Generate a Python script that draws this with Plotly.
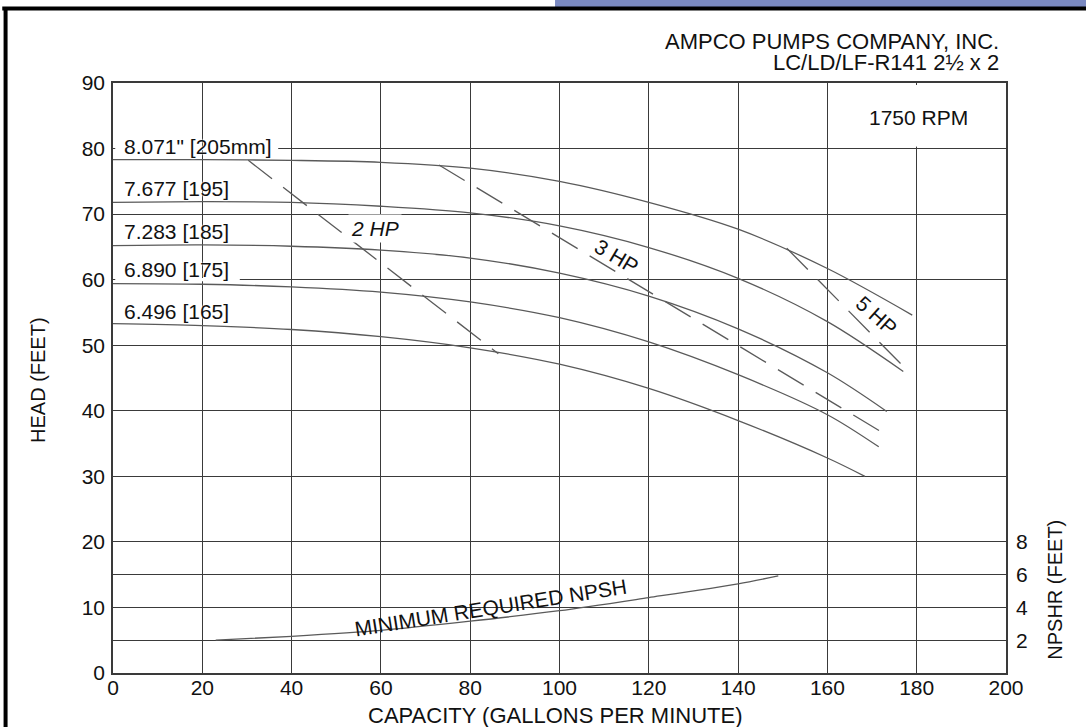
"""Ampco LC/LD/LF-R141 pump performance curve."""

import plotly.graph_objects as go

C_GRID = "#3a3a3a"
C_CURVE = "#5a5a5a"
C_TEXT = "#111111"
FONT = "Liberation Sans, Arial, sans-serif"

# impeller curves: capacity (gpm) -> head (ft)
IMP_LABELS = ['8.071" [205mm]', "7.677 [195]", "7.283 [185]", "6.890 [175]", "6.496 [165]"]
GPM_205 = [0, 20, 40, 60, 80, 100, 120, 140, 160, 179]
HEAD_205 = [78.3, 78.3, 78.2, 77.9, 77.0, 75.0, 71.8, 67.7, 61.7, 54.6]
GPM_195 = [0, 20, 40, 60, 80, 100, 120, 140, 160, 177]
HEAD_195 = [71.8, 71.9, 71.8, 71.2, 70.2, 68.2, 64.9, 60.2, 53.6, 46.0]
GPM_185 = [0, 20, 40, 60, 80, 100, 120, 140, 160, 173.3]
HEAD_185 = [65.2, 65.3, 65.1, 64.5, 63.3, 61.0, 57.5, 52.5, 45.8, 39.9]
GPM_175 = [0, 20, 40, 60, 80, 100, 120, 140, 160, 171.5]
HEAD_175 = [59.4, 59.3, 58.9, 58.1, 56.6, 54.2, 50.5, 45.5, 39.4, 34.5]
GPM_165 = [0, 20, 40, 60, 80, 100, 120, 140, 160, 168.4]
HEAD_165 = [53.3, 53.0, 52.4, 51.3, 49.6, 47.1, 43.4, 38.5, 32.8, 30.0]
LABEL_HEAD = [80.3, 73.9, 67.3, 61.5, 55.1]

# horsepower lines
HP_LABELS = ["2 HP", "3 HP", "5 HP"]
GPM_2HP = [30.3, 86.3]
HEAD_2HP = [78.2, 48.7]
GPM_3HP = [73.0, 172.0]
HEAD_3HP = [77.5, 36.8]
GPM_5HP = [150.9, 177.4]
HEAD_5HP = [64.8, 46.5]

# minimum required NPSH (right axis, feet)
NPSH_GPM = [23, 40, 60, 80, 100, 120, 140, 149]
NPSH_FT = [2.0, 2.24, 2.6, 3.16, 3.8, 4.6, 5.44, 5.92]

X_TICKS = [0, 20, 40, 60, 80, 100, 120, 140, 160, 180, 200]
Y_TICKS = [0, 10, 20, 30, 40, 50, 60, 70, 80, 90]
Y2_TICKS = [2, 4, 6, 8]

fig = go.Figure()

curves = [
    (GPM_205, HEAD_205),
    (GPM_195, HEAD_195),
    (GPM_185, HEAD_185),
    (GPM_175, HEAD_175),
    (GPM_165, HEAD_165),
]
for (gx, gy), name in zip(curves, IMP_LABELS):
    fig.add_trace(
        go.Scatter(
            x=gx,
            y=gy,
            mode="lines",
            name=name,
            line=dict(color=C_CURVE, width=1.3, shape="spline", smoothing=0.9),
            hoverinfo="skip",
            showlegend=False,
        )
    )

for (gx, gy), name in zip(
    [(GPM_2HP, HEAD_2HP), (GPM_3HP, HEAD_3HP), (GPM_5HP, HEAD_5HP)], HP_LABELS
):
    fig.add_trace(
        go.Scatter(
            x=gx,
            y=gy,
            mode="lines",
            name=name,
            line=dict(color=C_CURVE, width=1.3, dash="30px,14px"),
            hoverinfo="skip",
            showlegend=False,
        )
    )

fig.add_trace(
    go.Scatter(
        x=NPSH_GPM,
        y=NPSH_FT,
        yaxis="y2",
        mode="lines",
        name="NPSHR",
        line=dict(color=C_CURVE, width=1.3, shape="spline", smoothing=0.8),
        hoverinfo="skip",
        showlegend=False,
    )
)

lbl_font = dict(family=FONT, size=21, color=C_TEXT)
annotations = []
for name, hy in zip(IMP_LABELS, LABEL_HEAD):
    annotations.append(
        dict(
            x=2, y=hy, xref="x", yref="y", text=name, showarrow=False,
            xanchor="left", yanchor="middle",
            font=dict(lbl_font, shadow="0px 0px 2px #fff, 0px 0px 2px #fff"),
        )
    )

annotations += [
    dict(x=58.7, y=67.8, xref="x", yref="y", text="<i>2 HP</i>", showarrow=False,
         bgcolor="white", borderpad=2, font=lbl_font),
    dict(x=112.8, y=63.5, xref="x", yref="y", text="3 HP", showarrow=False,
         textangle=31, font=lbl_font),
    dict(x=171, y=54.5, xref="x", yref="y", text="5 HP", showarrow=False,
         textangle=42, font=lbl_font),
    dict(x=84.6, y=10, xref="x", yref="y", text="MINIMUM REQUIRED NPSH",
         showarrow=False, textangle=-9, font=lbl_font),
    dict(x=180.5, y=84.7, xref="x", yref="y", text="1750 RPM", showarrow=False,
         font=lbl_font),
    dict(x=1, y=1.0695, xref="paper", yref="paper", xshift=-5,
         text="AMPCO PUMPS COMPANY, INC.", showarrow=False, xanchor="right",
         yanchor="middle", font=dict(lbl_font, size=22)),
    dict(x=1, y=1.0339, xref="paper", yref="paper", xshift=-5,
         text="LC/LD/LF-R141 2½ x 2", showarrow=False, xanchor="right",
         yanchor="middle", font=dict(lbl_font, size=22)),
    dict(x=1, y=12.7, xref="paper", yref="y", xshift=49, xanchor="center",
         text="NPSHR (FEET)", showarrow=False, textangle=-90,
         font=dict(lbl_font, size=20)),
    # axis titles
    dict(x=0.495, y=-0.0712, xref="paper", yref="paper", yanchor="middle",
         text="CAPACITY (GALLONS PER MINUTE)", showarrow=False,
         font=dict(lbl_font, size=22)),
    dict(x=-0.084, y=0.4966, xref="paper", yref="paper", xanchor="center",
         text="HEAD (FEET)", showarrow=False, textangle=-90,
         font=dict(lbl_font, size=20)),
]

shapes = [
    # no 180 gpm grid line above the 80 ft line, no grid behind two labels
    dict(type="rect", xref="x", yref="y", x0=178.5, x1=181.5, y0=80.3, y1=89.7,
         fillcolor="white", line=dict(width=0), layer="between"),
    dict(type="rect", xref="x", yref="y", x0=0.5, x1=37, y0=79.75, y1=80.25,
         fillcolor="white", line=dict(width=0), layer="between"),
    dict(type="rect", xref="x", yref="y", x0=0.5, x1=28.4, y0=59.75, y1=60.25,
         fillcolor="white", line=dict(width=0), layer="between"),
    # page frame and header tab
    dict(type="rect", xref="paper", yref="paper", x0=0.495, x1=1.1, y0=1.1288,
         y1=1.16, fillcolor="#7b8ac2", line=dict(width=0)),
    dict(type="line", xref="paper", yref="paper", x0=-0.124, x1=1.1, y0=1.1263,
         y1=1.1263, line=dict(color="black", width=4)),
    dict(type="line", xref="paper", yref="paper", x0=-0.1203, x1=-0.1203,
         y0=-0.12, y1=1.129, line=dict(color="black", width=4)),
]

axis_common = dict(
    showline=True,
    linecolor=C_GRID,
    linewidth=1.5,
    mirror=True,
    showgrid=True,
    gridcolor=C_GRID,
    gridwidth=1.3,
    zeroline=False,
    ticks="",
    ticklabelstandoff=4,
    automargin=False,
    tickfont=dict(family=FONT, size=21, color=C_TEXT),
)

fig.update_layout(
    width=1086,
    height=727,
    paper_bgcolor="white",
    plot_bgcolor="white",
    margin=dict(l=113, r=80, t=83, b=54),
    font=dict(family=FONT, color=C_TEXT),
    showlegend=False,
    xaxis=dict(axis_common, range=[0, 200], tickvals=X_TICKS, ticklabelstandoff=-5),
    yaxis=dict(axis_common, range=[0, 90], tickvals=Y_TICKS, ticklabelstandoff=2),
    yaxis2=dict(
        axis_common,
        overlaying="y",
        side="right",
        range=[0, 36],
        tickvals=Y2_TICKS,
        mirror=False,
    ),
    shapes=shapes,
    annotations=annotations,
)

# the page's default 8px body margin would shift the drawing off the window grid
fig.write_html(
    "out.html",
    config={"displayModeBar": False},
    post_script="document.body.style.margin = '0px';",
)
